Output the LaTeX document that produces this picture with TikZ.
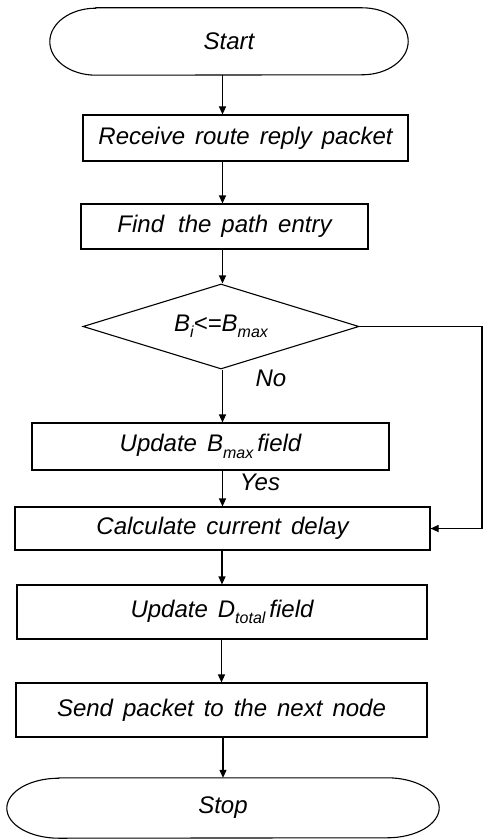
\documentclass[tikz,border=0pt]{standalone}
\usepackage{fontspec}
\setmainfont[WordSpace=1.5]{Liberation Sans}
\usepackage{tikz}
\usetikzlibrary{arrows.meta, shapes, positioning}
\usepackage{xcolor}
\newcommand{\lowsub}[1]{\raisebox{-0.5ex}{\fontsize{16}{16}\selectfont #1}}
\tikzset{stepbox/.style={rectangle, draw=black, line width=1.1pt, inner sep=0pt},endbox/.style={rectangle, draw=none, inner sep=0pt}}

\begin{document}
\begin{tikzpicture}[
        x=1pt, y=-1pt,
        font=\fontsize{24}{28}\selectfont\itshape,
        stepbox/.style={shape=rectangle, draw=black, line width=1.1pt, inner sep=0pt},
        endbox/.style={shape=rectangle, draw=none, inner sep=0pt},
        testbox/.style={shape=diamond, shape aspect=3.25, draw=black, line width=1.1pt, inner sep=0pt},
        flow/.style={-{Triangle[length=8pt, width=7pt]}, line width=1.1pt}
    ]
        \useasboundingbox (0, 0) rectangle (483, 840);
        % Steps
        \node[endbox, minimum width=358pt, minimum height=67pt] (start) at (229, 41.5) {Start};
        \node[stepbox, minimum width=325pt, minimum height=46pt] (recv) at (245.5, 138) {Receive route reply packet};
        \node[stepbox, minimum width=287pt, minimum height=45pt] (find) at (224.5, 226.5) {Find\, the path entry};
        \node[testbox, minimum width=276pt, minimum height=85pt] (test) at (221, 326.5) {B\lowsub{i}<=B\lowsub{max}};
        \node[stepbox, minimum width=357pt, minimum height=47pt] (bmax) at (210.5, 446.5) {Update B\lowsub{max}\,field};
        \node[stepbox, minimum width=415pt, minimum height=43pt] (delay) at (222.5, 528.5) {Calculate current delay};
        \node[stepbox, minimum width=410pt, minimum height=54pt] (dtotal) at (222, 612) {Update D\lowsub{total}\,field};
        \node[stepbox, minimum width=411pt, minimum height=54pt] (send) at (221.5, 710) {Send packet to the next node};
        \node[endbox, minimum width=432pt, minimum height=60pt] (stop) at (223, 808) {Stop};
        % Terminal outlines
        \draw[line width=1.1pt] ([xshift=46pt]start.north west) -- ([xshift=-46pt]start.north east)
            arc[start angle=90, end angle=-90, x radius=46pt, y radius=33.5pt]
            -- ([xshift=46pt]start.south west)
            arc[start angle=270, end angle=90, x radius=46pt, y radius=33.5pt] -- cycle;
        \draw[line width=1.1pt] ([xshift=52pt]stop.north west) -- ([xshift=-52pt]stop.north east)
            arc[start angle=90, end angle=-90, x radius=52pt, y radius=30pt]
            -- ([xshift=52pt]stop.south west)
            arc[start angle=270, end angle=90, x radius=52pt, y radius=30pt] -- cycle;
        % Labels
        \node (no) at (271, 378) {No};
        \node (yes) at (260, 482) {Yes};
        % Arrows
        \draw[flow] (start.south -| delay) -- (recv.north -| delay);
        \draw[flow] (recv.south -| delay) -- (find.north -| delay);
        \draw[flow] (find.south -| delay) -- (test.north -| delay);
        \draw[flow] (test.south -| delay) -- (bmax.north -| delay);
        \draw[flow] (bmax.south -| delay) -- (delay.north);
        \draw[flow] (delay.south -| dtotal) -- (dtotal.north);
        \draw[flow] (dtotal.south -| send) -- (send.north);
        \draw[flow] (send.south -| stop) -- (stop.north);
        % Loop back
        \coordinate (back) at (482, 326.5);
        \draw[flow] (test.east) -- (back) |- (delay.east);
    \end{tikzpicture}
\end{document}
